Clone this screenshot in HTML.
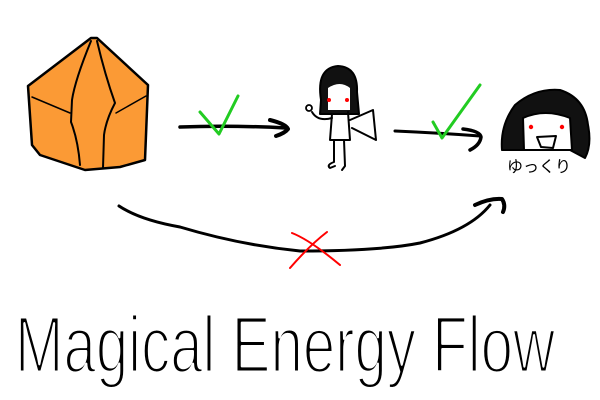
<!DOCTYPE html>
<html><head><style>body{margin:0;background:#fff}svg{display:block}</style></head>
<body>
<svg width="600" height="400" viewBox="0 0 600 400" xmlns="http://www.w3.org/2000/svg" fill="none" stroke="#000" stroke-linecap="round" stroke-linejoin="round">
<!-- crystal -->
<path d="M91,38 L28,86 L32,145 L40,155 L85,170 L120,167 L145,160 L148,85 L97,38 Z" fill="#fb9a35" stroke-width="2.5"/>
<path d="M91,41 Q75,80 72,100 L71,122 Q78,140 80,165" stroke-width="2"/>
<path d="M97,41 Q105,75 115,103 Q106,120 104,135 L103,168" stroke-width="2"/>
<path d="M32,97 L70,113" stroke-width="1.5"/>
<path d="M116,113 L146,96" stroke-width="1.5"/>
<!-- arrow 1 -->
<path d="M180,127 Q230,125 286,128" stroke-width="3.5"/>
<path d="M270,120 Q286,124 288,129 Q285,133 276,136" stroke-width="4"/>
<path d="M200,112 L219,134 L238,96" stroke="#22cc22" stroke-width="3"/>
<!-- girl -->
<path d="M321,100 Q316,68 338,66 Q358,67 357,92 L359,114 L320,114 Z" fill="#111" stroke-width="2"/>
<path d="M328,88 Q340,80 350,88 L350,110 L328,110 Z" fill="#fff" stroke="none"/>
<circle cx="329" cy="100" r="2" fill="#f00" stroke="none"/>
<circle cx="347" cy="100" r="2" fill="#f00" stroke="none"/>
<path d="M332,114 L330,140 L350,140 L348,112" stroke-width="2"/>
<path d="M332,118 Q318,122 312,112" stroke-width="2"/>
<circle cx="309" cy="108" r="3" stroke-width="1.8"/>
<path d="M350,120 L373,110 L376,140 L352,128" stroke-width="2"/>
<path d="M334,140 L334,162 Q326,165 330,168 L335,166" stroke-width="2"/>
<path d="M344,140 L345,166 L342,170" stroke-width="2"/>
<!-- arrow 2 -->
<path d="M395,131 Q440,133 480,136" stroke-width="3"/>
<path d="M463,129 Q480,131 481,137 Q480,145 470,150" stroke-width="3.5"/>
<path d="M433,122 L442,138 L480,85" stroke="#22cc22" stroke-width="3"/>
<!-- head 2 -->
<path d="M502,150 Q500,125 515,105 Q535,88 560,90 Q585,98 588,125 Q592,145 585,158 L570,150 L522,150 Z" fill="#111" stroke-width="2"/>
<path d="M523,118 Q545,108 570,118 L572,150 L524,150 Z" fill="#fff" stroke-width="2"/>
<circle cx="531" cy="127" r="2.2" fill="#f00" stroke="none"/>
<circle cx="562" cy="127" r="2.2" fill="#f00" stroke="none"/>
<path d="M537,137 L556,136 L553,148 L541,147 Z" stroke-width="2"/>
<text x="507" y="172" font-family="Liberation Sans, Noto Sans CJK JP, sans-serif" font-size="16" fill="#000" stroke="none">ゆっくり</text>
<!-- bottom arrow -->
<path d="M119,206 Q140,220 180,227 Q240,245 300,251 Q380,251 420,243 Q470,230 490,205" stroke-width="3"/>
<path d="M475,205 Q490,198 502,199 Q506,205 503,212" stroke-width="4"/>
<path d="M292,233 Q310,240 340,265 M290,268 Q310,245 327,232" stroke="#f00" stroke-width="2"/>
<!-- title -->
<text x="15" y="372" font-family="Liberation Sans, sans-serif" font-size="80" textLength="540" lengthAdjust="spacingAndGlyphs" fill="#000" stroke="#fff" stroke-width="3">Magical Energy Flow</text>
</svg>
</body></html>
